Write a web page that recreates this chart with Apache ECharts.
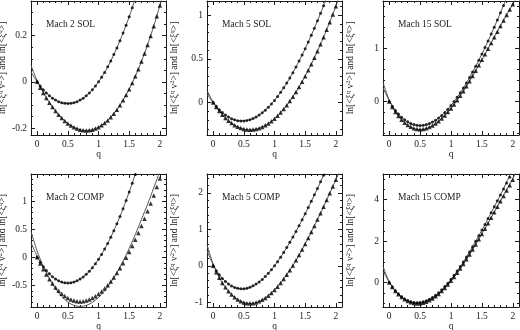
<!DOCTYPE html>
<html>
<head>
<meta charset="utf-8">
<script src="https://cdn.jsdelivr.net/npm/echarts@6/dist/echarts.min.js"></script>
<style>
  html, body { margin: 0; padding: 0; background: #fff; }
  #myChart { width: 520px; height: 330px; }
</style>
</head>
<body>
<div id="myChart"></div>
<script>
// q grid of the measured points and of the fitted curves
const q = [0, 0.05, 0.1, 0.15, 0.2, 0.25, 0.3, 0.35, 0.4, 0.45, 0.5, 0.55, 0.6, 0.65, 0.7, 0.75, 0.8, 0.85, 0.9, 0.95,
  1, 1.05, 1.1, 1.15, 1.2, 1.25, 1.3, 1.35, 1.4, 1.45, 1.5, 1.55, 1.6, 1.65, 1.7, 1.75, 1.8, 1.85, 1.9, 1.95, 2]
const qFit = [-0.1, 0, 0.1, 0.2, 0.3, 0.4, 0.5, 0.6, 0.7, 0.8, 0.9, 1, 1.1, 1.2, 1.3, 1.4, 1.5, 1.6, 1.7, 1.8, 1.9, 2, 2.1]

// Mach 2 SOL
const m2solCirc = [0, -0.018, -0.034, -0.048, -0.060, -0.071, -0.079, -0.086, -0.090, -0.093, -0.094, -0.093, -0.090, -0.086, -0.079, -0.071, -0.060, -0.048, -0.034, -0.018,
  0.000, 0.020, 0.041, 0.065, 0.090, 0.118, 0.147, 0.178, 0.211, 0.245, 0.282, 0.321]
const m2solTri = [0, -0.025, -0.048, -0.070, -0.090, -0.109, -0.126, -0.142, -0.156, -0.169, -0.180, -0.189, -0.196, -0.202, -0.207, -0.209, -0.210, -0.209, -0.207, -0.202,
  -0.196, -0.188, -0.178, -0.167, -0.153, -0.138, -0.121, -0.101, -0.080, -0.057, -0.032, -0.005, 0.024, 0.055, 0.088, 0.123, 0.160, 0.199, 0.241, 0.284, 0.330]
const m2solFitC = [0.043, 0, -0.034, -0.060, -0.079, -0.090, -0.094, -0.090, -0.079, -0.060, -0.034, 0.000, 0.041, 0.090, 0.147, 0.211, 0.282, 0.361, 0.447]
const m2solFitT = [0.072, 0.005, -0.046, -0.090, -0.127, -0.157, -0.180, -0.197, -0.207, -0.211, -0.207, -0.196, -0.178, -0.153, -0.120, -0.080, -0.032, 0.024, 0.088, 0.160, 0.241, 0.330, 0.425]

// Mach 5 SOL
const m5solCirc = [0, -0.043, -0.081, -0.114, -0.142, -0.165, -0.184, -0.197, -0.206, -0.210, -0.209, -0.204, -0.195, -0.182, -0.164, -0.142, -0.116, -0.087, -0.053, -0.016,
  0.025, 0.069, 0.117, 0.169, 0.223, 0.281, 0.342, 0.407, 0.474, 0.544, 0.616, 0.692, 0.770, 0.850, 0.934, 1.019, 1.107]
const m5solTri = [0, -0.051, -0.097, -0.138, -0.175, -0.207, -0.234, -0.258, -0.277, -0.291, -0.302, -0.308, -0.310, -0.308, -0.302, -0.292, -0.278, -0.260, -0.238, -0.213,
  -0.184, -0.151, -0.114, -0.074, -0.031, 0.017, 0.067, 0.121, 0.178, 0.238, 0.302, 0.368, 0.438, 0.511, 0.586, 0.665, 0.747, 0.831, 0.918, 1.007, 1.100]
const m5solFitC = [0.098, 0, -0.081, -0.142, -0.184, -0.206, -0.209, -0.195, -0.164, -0.116, -0.053, 0.025, 0.117, 0.223, 0.342, 0.474, 0.616, 0.770, 0.934, 1.107, 1.290]
const m5solFitT = [0.140, 0.005, -0.096, -0.175, -0.235, -0.278, -0.303, -0.312, -0.303, -0.279, -0.239, -0.184, -0.114, -0.031, 0.067, 0.178, 0.302, 0.438, 0.586, 0.747, 0.918, 1.100, 1.290]

// Mach 15 SOL
const m15solCirc = [0, -0.089, -0.167, -0.235, -0.294, -0.342, -0.382, -0.412, -0.433, -0.446, -0.450, -0.446, -0.434, -0.414, -0.387, -0.352, -0.310, -0.261, -0.206, -0.144,
  -0.076, -0.002, 0.078, 0.163, 0.253, 0.349, 0.449, 0.554, 0.664, 0.777, 0.894, 1.015, 1.140, 1.268, 1.398, 1.532, 1.668, 1.806]
const m15solTri = [0, -0.104, -0.196, -0.275, -0.342, -0.398, -0.443, -0.477, -0.501, -0.515, -0.520, -0.516, -0.502, -0.481, -0.451, -0.414, -0.370, -0.319, -0.262, -0.199,
  -0.130, -0.055, 0.024, 0.107, 0.195, 0.286, 0.380, 0.478, 0.578, 0.680, 0.783, 0.888, 0.994, 1.101, 1.208, 1.314, 1.420, 1.525, 1.628, 1.730, 1.830]
const m15solFitC = [0.26, 0.02, -0.165, -0.297, -0.388, -0.44, -0.457, -0.44, -0.39, -0.31, -0.205, -0.075, 0.078, 0.253, 0.449, 0.664, 0.894, 1.14, 1.398, 1.668, 1.947]
const m15solFitT = [0.36, 0.03, -0.195, -0.345, -0.45, -0.51, -0.53, -0.51, -0.455, -0.37, -0.262, -0.13, 0.024, 0.195, 0.38, 0.578, 0.783, 0.994, 1.208, 1.42, 1.628, 1.83, 2.03]

// Mach 2 COMP
const m2compCirc = [0, -0.089, -0.168, -0.237, -0.297, -0.347, -0.388, -0.420, -0.442, -0.456, -0.460, -0.456, -0.443, -0.421, -0.390, -0.352, -0.305, -0.250, -0.186, -0.115,
  -0.036, 0.051, 0.146, 0.248, 0.358, 0.475, 0.599, 0.730, 0.869, 1.014, 1.166, 1.325, 1.48]
const m2compTri = [0, -0.112, -0.215, -0.309, -0.395, -0.471, -0.540, -0.599, -0.651, -0.694, -0.729, -0.756, -0.775, -0.786, -0.790, -0.786, -0.775, -0.757, -0.731, -0.699,
  -0.659, -0.613, -0.559, -0.500, -0.434, -0.361, -0.282, -0.197, -0.107, -0.010, 0.093, 0.201, 0.315, 0.434, 0.558, 0.688, 0.823, 0.962, 1.107, 1.256, 1.410]
const m2compFitC = [0.26, 0.02, -0.17, -0.30, -0.39, -0.445, -0.463, -0.445, -0.392, -0.306, -0.187, -0.036, 0.146, 0.358, 0.60, 0.87, 1.167, 1.49, 1.84]
const m2compFitT = [0.46, 0.11, -0.16, -0.38, -0.56, -0.702, -0.802, -0.861, -0.880, -0.862, -0.807, -0.720, -0.600, -0.450, -0.273, -0.070, 0.158, 0.407, 0.677, 0.95, 1.24, 1.54, 1.86]

// Mach 5 COMP
const m5compCirc = [0, -0.132, -0.248, -0.347, -0.431, -0.499, -0.553, -0.592, -0.617, -0.629, -0.628, -0.614, -0.588, -0.550, -0.502, -0.442, -0.372, -0.293, -0.204, -0.106,
  0.001, 0.115, 0.237, 0.366, 0.502, 0.644, 0.792, 0.945, 1.102, 1.264, 1.431, 1.600, 1.773, 1.948, 2.125, 2.304, 2.484]
const m5compTri = [0, -0.173, -0.329, -0.468, -0.590, -0.697, -0.788, -0.864, -0.925, -0.971, -1.004, -1.024, -1.030, -1.024, -1.005, -0.975, -0.934, -0.881, -0.818, -0.745,
  -0.663, -0.571, -0.470, -0.361, -0.244, -0.120, 0.012, 0.150, 0.294, 0.445, 0.600, 0.761, 0.926, 1.095, 1.268, 1.445, 1.624, 1.805, 1.989, 2.174, 2.360]
const m5compFitC = [0.42, 0.03, -0.245, -0.43, -0.555, -0.622, -0.635, -0.595, -0.505, -0.372, -0.202, 0.002, 0.238, 0.502, 0.792, 1.102, 1.43, 1.772, 2.124, 2.483, 2.85]
const m5compFitT = [0.58, 0.05, -0.325, -0.592, -0.792, -0.93, -1.01, -1.036, -1.01, -0.936, -0.818, -0.662, -0.47, -0.244, 0.012, 0.294, 0.6, 0.926, 1.268, 1.624, 1.989, 2.36, 2.74]

// Mach 15 COMP
const m15compCirc = [0, -0.212, -0.396, -0.553, -0.684, -0.789, -0.870, -0.926, -0.959, -0.970, -0.959, -0.928, -0.877, -0.806, -0.718, -0.612, -0.489, -0.350, -0.196, -0.028,
  0.154, 0.348, 0.554, 0.771, 0.998, 1.235, 1.480, 1.733, 1.994, 2.260, 2.532, 2.808, 3.088, 3.371, 3.657, 3.943, 4.230, 4.517, 4.803, 5.087]
const m15compTri = [0, -0.216, -0.404, -0.565, -0.700, -0.809, -0.894, -0.954, -0.991, -1.006, -0.999, -0.971, -0.923, -0.855, -0.770, -0.667, -0.547, -0.411, -0.260, -0.095,
  0.084, 0.271, 0.469, 0.677, 0.894, 1.120, 1.353, 1.593, 1.840, 2.090, 2.345, 2.603, 2.864, 3.127, 3.392, 3.656, 3.920, 4.183, 4.444, 4.702, 4.960]
const m15compFitC = [0.78, 0.05, -0.40, -0.69, -0.88, -0.97, -0.97, -0.89, -0.73, -0.50, -0.20, 0.15, 0.55, 1.0, 1.48, 2.0, 2.53, 3.09, 3.66, 4.23, 4.85, 5.5]
const m15compFitT = [0.55, 0.02, -0.41, -0.71, -0.90, -1.0, -1.01, -0.93, -0.78, -0.56, -0.27, 0.08, 0.47, 0.89, 1.35, 1.84, 2.35, 2.87, 3.4, 3.93, 4.47, 5.02, 5.6]

// tick labels
const xTicks = [0, 0.5, 1, 1.5, 2]
const xMinorTicks = [-0.1, 0.1, 0.2, 0.3, 0.4, 0.6, 0.7, 0.8, 0.9, 1.1, 1.2, 1.3, 1.4, 1.6, 1.7, 1.8, 1.9, 2.1]
const yTicks = [
  [-0.2, 0, 0.2],
  [0, 0.5, 1],
  [0, 1],
  [-0.5, 0, 0.5, 1],
  [-1, 0, 1, 2],
  [0, 2, 4],
]
const yMinorTicks = [
  [-0.15, -0.1, -0.05, 0.05, 0.1, 0.15, 0.25, 0.3, 0.35],
  [-0.3, -0.2, -0.1, 0.1, 0.2, 0.3, 0.4, 0.6, 0.7, 0.8, 0.9, 1.1],
  [-0.6, -0.4, -0.2, 0.2, 0.4, 0.6, 0.8, 1.2, 1.4, 1.6, 1.8],
  [-0.8, -0.7, -0.6, -0.4, -0.3, -0.2, -0.1, 0.1, 0.2, 0.3, 0.4, 0.6, 0.7, 0.8, 0.9, 1.1, 1.2, 1.3, 1.4],
  [-0.8, -0.6, -0.4, -0.2, 0.2, 0.4, 0.6, 0.8, 1.2, 1.4, 1.6, 1.8, 2.2, 2.4],
  [-1, -0.5, 0.5, 1, 1.5, 2.5, 3, 3.5, 4.5, 5],
]
const yRanges = [[-0.23, 0.35], [-0.37, 1.16], [-0.63, 1.89], [-0.89, 1.49], [-1.13, 2.52], [-1.18, 5.24]]
const titles = ['Mach 2 SOL', 'Mach 5 SOL', 'Mach 15 SOL', 'Mach 2 COMP', 'Mach 5 COMP', 'Mach 15 COMP']

const panels = [
  { circ: m2solCirc, tri: m2solTri, fitC: m2solFitC, fitT: m2solFitT },
  { circ: m5solCirc, tri: m5solTri, fitC: m5solFitC, fitT: m5solFitT },
  { circ: m15solCirc, tri: m15solTri, fitC: m15solFitC, fitT: m15solFitT },
  { circ: m2compCirc, tri: m2compTri, fitC: m2compFitC, fitT: m2compFitT },
  { circ: m5compCirc, tri: m5compTri, fitC: m5compFitC, fitT: m5compFitT },
  { circ: m15compCirc, tri: m15compTri, fitC: m15compFitC, fitT: m15compFitT },
]

const FONT = 'Liberation Serif'
const INK = '#1a1a1a'
const colLeft = [31, 207, 383]
const colWidth = [135, 135, 136]
const colNameGap = [23, 27, 27]
const rowTop = [1, 174]
const rowHeight = [134, 133]

const grid = []
const xAxis = []
const yAxis = []
const series = []
const title = []

const pairs = (xs, ys) => ys.map((v, i) => [xs[i], v])

panels.forEach((p, i) => {
  const col = i % 3
  const row = Math.floor(i / 3)
  grid.push({
    left: colLeft[col], top: rowTop[row], width: colWidth[col], height: rowHeight[row],
    outerBoundsMode: 'none',
  })

  const xBase = { gridIndex: i, type: 'value', min: -0.1, max: 2.1, splitLine: { show: false } }
  const lineOn = { show: true, onZero: false, lineStyle: { color: INK, width: 1 } }
  const lineOff = { show: false, onZero: false }
  const major = vals => ({ show: true, inside: true, length: 4, customValues: vals, lineStyle: { color: INK } })
  const minor = vals => ({ show: true, inside: true, length: 2, customValues: vals, lineStyle: { color: INK } })

  xAxis.push(
    {
      ...xBase, position: 'bottom', axisLine: lineOn, axisTick: major(xTicks),
      axisLabel: { customValues: xTicks, margin: 4, fontFamily: FONT, fontSize: 9.5, color: INK },
      name: 'q', nameLocation: 'middle', nameGap: 13,
      nameTextStyle: { fontFamily: FONT, fontSize: 9.5, color: INK },
    },
    { ...xBase, position: 'bottom', axisLine: lineOff, axisTick: minor(xMinorTicks), axisLabel: { show: false } },
    { ...xBase, position: 'top', axisLine: lineOn, axisTick: major(xTicks), axisLabel: { show: false } },
    { ...xBase, position: 'top', axisLine: lineOff, axisTick: minor(xMinorTicks), axisLabel: { show: false } },
  )

  const yBase = { gridIndex: i, type: 'value', min: yRanges[i][0], max: yRanges[i][1], splitLine: { show: false } }
  yAxis.push(
    {
      ...yBase, position: 'left', axisLine: lineOn, axisTick: major(yTicks[i]),
      axisLabel: { customValues: yTicks[i], margin: 4, fontFamily: FONT, fontSize: 9.5, color: INK },
      name: '{b|ln[<ξ}{s|q}{b| v}{s|2}{b|>] and ln[<ξ}{s|q}{b|>]}',
      nameLocation: 'middle', nameRotate: 90, nameGap: colNameGap[col],
      nameTextStyle: {
        fontFamily: FONT, fontSize: 9.5, color: INK,
        rich: {
          b: { fontFamily: FONT, fontSize: 9.5, color: INK, lineHeight: 11 },
          s: { fontFamily: FONT, fontSize: 6.5, color: INK, verticalAlign: 'top' },
        },
      },
    },
    { ...yBase, position: 'left', axisLine: lineOff, axisTick: minor(yMinorTicks[i]), axisLabel: { show: false } },
    { ...yBase, position: 'right', axisLine: lineOn, axisTick: major(yTicks[i]), axisLabel: { show: false } },
    { ...yBase, position: 'right', axisLine: lineOff, axisTick: minor(yMinorTicks[i]), axisLabel: { show: false } },
  )

  const ax = { xAxisIndex: i * 4, yAxisIndex: i * 4 }
  const fitStyle = {
    type: 'line', showSymbol: false, smooth: 0.3, clip: true, silent: true, z: 1,
    lineStyle: { color: '#555', width: 1 },
  }
  series.push(
    { ...ax, ...fitStyle, name: 'fitC' + i, data: pairs(qFit, p.fitC) },
    { ...ax, ...fitStyle, name: 'fitT' + i, data: pairs(qFit, p.fitT) },
    {
      ...ax, type: 'scatter', name: 'circ' + i, symbol: 'circle', symbolSize: 3, z: 3,
      itemStyle: { color: '#000' }, data: pairs(q, p.circ),
    },
    {
      ...ax, type: 'scatter', name: 'tri' + i, symbol: 'triangle', symbolSize: 4.5, z: 3,
      itemStyle: { color: '#000' }, data: pairs(q, p.tri),
    },
  )

  title.push({
    text: titles[i], left: colLeft[col] + 15, top: rowTop[row] + 18, padding: 0,
    textStyle: { fontFamily: FONT, fontSize: 9.5, fontWeight: 'normal', color: INK },
  })
})

const chart = echarts.init(document.getElementById('myChart'))
chart.setOption({
  animation: false,
  backgroundColor: '#fff',
  title,
  grid,
  xAxis,
  yAxis,
  series,
})
</script>
</body>
</html>
